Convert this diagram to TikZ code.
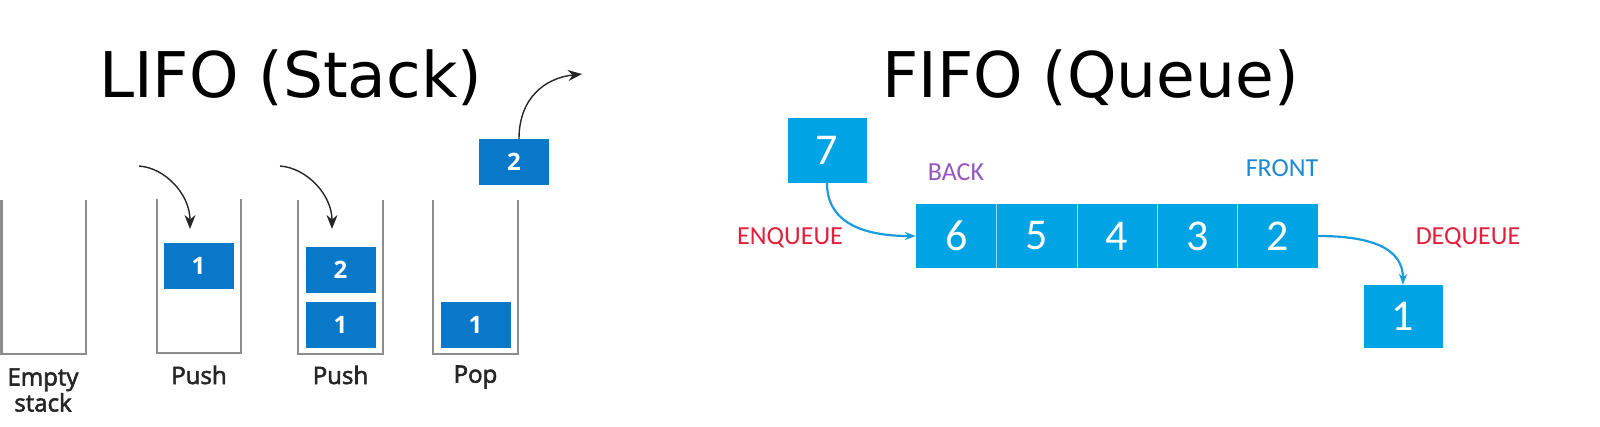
\documentclass[tikz,border=0pt]{standalone}
\usepackage{fontspec}
\setmainfont{DejaVu Sans}
\newfontfamily\osans{Open Sans}
\newfontfamily\osansb[FakeBold=2.5]{Open Sans}
\newfontfamily\carl{Carlito}
\usetikzlibrary{arrows.meta}
\definecolor{stackblue}{HTML}{0A78C8}
\definecolor{qblue}{HTML}{00A3E4}
\definecolor{wallgray}{HTML}{8C8C8C}
\definecolor{labelgray}{HTML}{262626}
\definecolor{qred}{HTML}{E0203C}
\definecolor{qpurple}{HTML}{9457C0}
\definecolor{qfront}{HTML}{1E8AD2}
\definecolor{qarrow}{HTML}{1A9BDB}
\begin{document}
\begin{tikzpicture}[x=1pt,y=-1pt,
  title/.style={anchor=base west,inner sep=0,font=\fontsize{63}{63}\selectfont},
  wall/.style={draw=wallgray,line width=2.6pt},
  sbox/.style={fill=stackblue,minimum width=70pt,minimum height=46pt,inner sep=0,text=white,font=\osans\bfseries\fontsize{24}{24}\selectfont},
  slabel/.style={text=labelgray,font=\osansb\fontsize{24}{26}\selectfont,align=center,inner sep=0},
  qcell/.style={fill=qblue,minimum width=80.4pt,minimum height=64pt,inner sep=0,text=white,font=\carl\fontsize{44}{44}\selectfont},
  qlabel/.style={inner sep=0,font=\carl\fontsize{26}{26}\selectfont},
  pusharrow/.style={draw=black!85,line width=1.4pt,-{Stealth[length=14pt,width=11pt]}},
  qarr/.style={draw=qarrow,line width=2.2pt,-{Stealth[length=11pt,width=8pt]}},
  divider/.style={draw=qblue!40!white,line width=1pt}
]
\useasboundingbox (0,0) rectangle (1600,426);
% titles
\node[title] (t1) at (99,97) {LIFO (Stack)};
\node[title] (t2) at (882,97) {FIFO (Queue)};
% stack containers
\draw[wall] (1.3,200) -- (1.3,354) -- (86,354) -- (86,200);
\draw[wall] (157,199) -- (157,353) -- (241,353) -- (241,199);
\draw[wall] (298,200) -- (298,354) -- (383,354) -- (383,200);
\draw[wall] (433,200) -- (433,354) -- (518,354) -- (518,200);
% stack boxes
\node[sbox] (p1a) at (198.5,265.5) {1};
\node[sbox] (p2b) at (340.5,270) {2};
\node[sbox] (p2a) at (340.5,325) {1};
\node[sbox] (pop1) at (475.5,325) {1};
\node[sbox] (pop2) at (514,162) {2};
% stack labels
\node[slabel] (le) at (43,390) {Empty\\stack};
\node[slabel] (lp1) at (199,375) {Push};
\node[slabel] (lp2) at (340.5,375) {Push};
\node[slabel] (lpop) at (475.5,377) {Pop};
% stack arrows
\coordinate (a1s) at (139,166);
\coordinate (a1e) at (190,229);
\coordinate (a2s) at (280,166);
\coordinate (a2e) at (332,229);
\coordinate (a3e) at (582,74);
\draw[pusharrow] (a1s) .. controls (166,168) and (190,195) .. (a1e);
\draw[pusharrow] (a2s) .. controls (307,168) and (332,195) .. (a2e);
\draw[pusharrow] ([xshift=5pt]pop2.north) .. controls (519,98) and (545,78) .. (a3e);
% queue
\node[qcell,minimum width=79pt,minimum height=65pt] (q7) at (827,150.5) {7};
\node[qcell] (c6) at (956.2,236) {6};
\node[qcell] (c5) at (1036.6,236) {5};
\node[qcell] (c4) at (1117,236) {4};
\node[qcell] (c3) at (1197.4,236) {3};
\node[qcell] (c2) at (1277.8,236) {2};
\draw[divider] (c6.north east) -- (c6.south east);
\draw[divider] (c5.north east) -- (c5.south east);
\draw[divider] (c4.north east) -- (c4.south east);
\draw[divider] (c3.north east) -- (c3.south east);
\node[qcell,minimum width=79pt,minimum height=63pt] (q1) at (1403,316.5) {1};
% queue labels
\node[qlabel,text=qred] (enq) at (790,238) {ENQUEUE};
\node[qlabel,text=qred] (deq) at (1468,238) {DEQUEUE};
\node[qlabel,text=qpurple] (back) at (956,172) {BACK};
\node[qlabel,text=qfront] (front) at (1282,168) {FRONT};
% queue arrows
\draw[qarr] (q7.south) .. controls (827,222) and (862,236) .. (c6.west);
\draw[qarr] (c2.east) .. controls (1375,236) and (1403,250) .. (q1.north);
\end{tikzpicture}
\end{document}
